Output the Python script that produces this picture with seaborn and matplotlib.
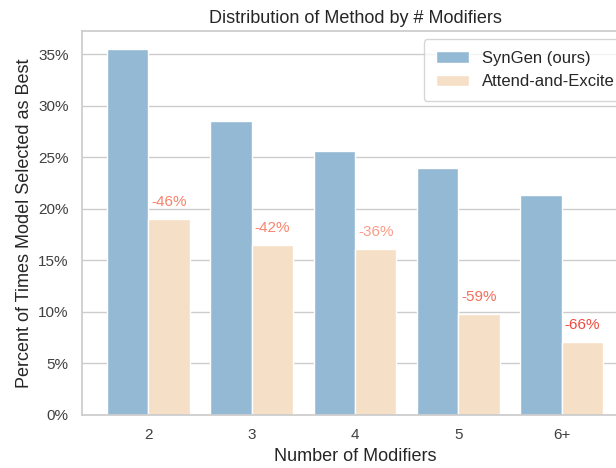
import matplotlib
matplotlib.use("Agg")
import matplotlib.pyplot as plt
from matplotlib.ticker import PercentFormatter
import seaborn as sns
import pandas as pd

# values (fraction of times selected as best)
modifiers = ["2", "3", "4", "5", "6+"]
syngen = [0.355, 0.285, 0.256, 0.240, 0.214]
attend = [0.190, 0.165, 0.161, 0.0976, 0.0707]
drop_labels = ["-46%", "-42%", "-36%", "-59%", "-66%"]
drop_colors = ["#f7826c", "#f8846e", "#fb9c86", "#f46f5c", "#ef4a3f"]
methods = ["SynGen (ours)", "Attend-and-Excite"]

df = pd.DataFrame({
    "Number of Modifiers": modifiers * 2,
    "share": syngen + attend,
    "Method": [methods[0]] * len(modifiers) + [methods[1]] * len(modifiers),
})

sns.set_theme(style="whitegrid")
plt.rcParams['font.family'] = ['Liberation Sans', 'DejaVu Sans']

fig = plt.figure(figsize=(6.16, 4.68), dpi=100)
# axes runs past the right edge, the reference is cropped there
ax = fig.add_axes([82 / 616, 53 / 468, 546 / 616, 384 / 468])

sns.barplot(data=df, x="Number of Modifiers", y="share", hue="Method",
            palette=["#93b9d4", "#f6dfc7"], saturation=1,
            edgecolor="white", linewidth=1, width=0.8, ax=ax)

for bar, lab, col in zip(ax.containers[1], drop_labels, drop_colors):
    ax.text(bar.get_x() + bar.get_width() / 2, bar.get_height() + 0.01, lab,
            ha="center", va="bottom", color=col, fontsize=11)

ax.set_xlim(-0.64, 4.64)
ax.set_ylim(0, max(syngen) * 1.05)
ax.yaxis.set_major_formatter(PercentFormatter(1.0, decimals=0))
ax.xaxis.grid(False)
ax.tick_params(labelsize=11, labelcolor=".25")
ax.set_xlabel("Number of Modifiers", fontsize=13)
ax.set_ylabel("Percent of Times Model Selected as Best", fontsize=13)
ax.set_title("Distribution of Method by # Modifiers", fontsize=13)
ax.legend(title=None, loc="upper right", bbox_to_anchor=(1.013, 1.0),
          fontsize=12, borderpad=0.7)

fig.savefig("out.png", dpi=100)
